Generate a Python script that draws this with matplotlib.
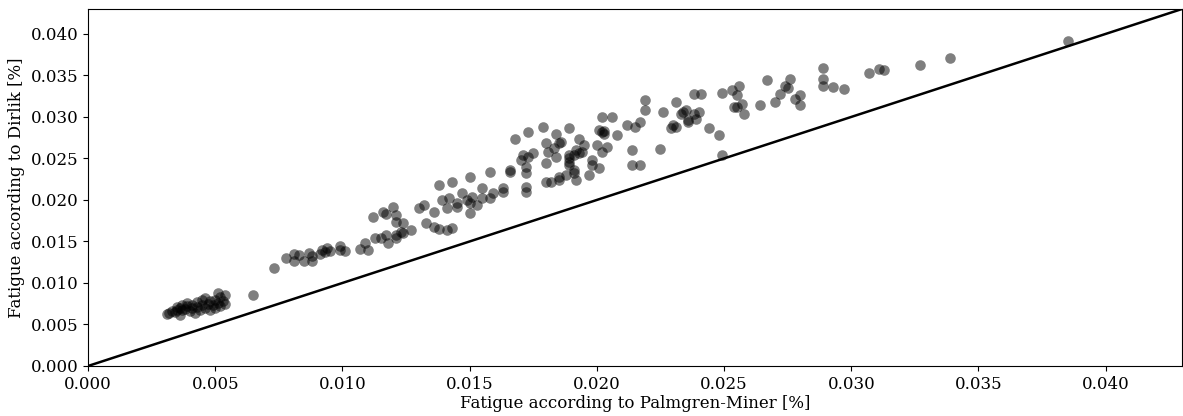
import matplotlib
matplotlib.use('Agg')
from matplotlib import pyplot as plt
import numpy as np

# fatigue values, (palmgren-miner, dirlik) in %
low_pm = [0.0031, 0.0032, 0.0033, 0.0034, 0.0035, 0.0035, 0.0036, 0.0036, 0.0037, 0.0037,
          0.0038, 0.0039, 0.0039, 0.0040, 0.0041, 0.0041, 0.0042, 0.0043, 0.0043, 0.0044,
          0.0045, 0.0045, 0.0046, 0.0046, 0.0047, 0.0048, 0.0048, 0.0049, 0.0050, 0.0050,
          0.0051, 0.0051, 0.0052, 0.0052, 0.0053, 0.0054, 0.0054, 0.0065]
low_dk = [0.0063, 0.0064, 0.0066, 0.0065, 0.0068, 0.0071, 0.0070, 0.0062, 0.0073, 0.0067,
          0.0069, 0.0072, 0.0076, 0.0066, 0.0070, 0.0074, 0.0064, 0.0071, 0.0077, 0.0068,
          0.0073, 0.0079, 0.0070, 0.0082, 0.0075, 0.0068, 0.0078, 0.0073, 0.0080, 0.0070,
          0.0088, 0.0076, 0.0072, 0.0083, 0.0078, 0.0085, 0.0075, 0.0085]

mid_pm = [0.0073, 0.0078, 0.0081, 0.0081, 0.0085, 0.0087, 0.0088, 0.0088, 0.0092, 0.0094,
          0.0095, 0.0099, 0.0099, 0.0101, 0.0107, 0.0109, 0.0110, 0.0113, 0.0115, 0.0117,
          0.0118, 0.0121, 0.0123, 0.0121, 0.0124, 0.0127, 0.0112, 0.0116, 0.0117, 0.0120,
          0.0121, 0.0121, 0.0124, 0.0130, 0.0132, 0.0136, 0.0133, 0.0136, 0.0138, 0.0141,
          0.0143, 0.0138, 0.0143, 0.0139, 0.0141, 0.0142, 0.0145, 0.0083, 0.0091, 0.0093,
          0.0145]
mid_dk = [0.0118, 0.0130, 0.0135, 0.0126, 0.0126, 0.0136, 0.0126, 0.0132, 0.0140, 0.0142,
          0.0138, 0.0144, 0.0140, 0.0138, 0.0141, 0.0148, 0.0140, 0.0154, 0.0154, 0.0158,
          0.0148, 0.0158, 0.0162, 0.0154, 0.0160, 0.0164, 0.0180, 0.0186, 0.0183, 0.0192,
          0.0182, 0.0174, 0.0172, 0.0190, 0.0194, 0.0186, 0.0172, 0.0168, 0.0165, 0.0164,
          0.0166, 0.0218, 0.0222, 0.0200, 0.0190, 0.0202, 0.0196, 0.0134, 0.0135, 0.0137,
          0.0192]

up_pm = [0.0150, 0.0158, 0.0166, 0.0147, 0.0149, 0.0150, 0.0151, 0.0153, 0.0150, 0.0155,
         0.0155, 0.0158, 0.0159, 0.0163, 0.0163, 0.0172, 0.0172, 0.0172, 0.0172, 0.0170,
         0.0171, 0.0173, 0.0175, 0.0180, 0.0181, 0.0184, 0.0180, 0.0182, 0.0185, 0.0185,
         0.0189, 0.0189, 0.0188, 0.0191, 0.0191, 0.0192, 0.0193, 0.0197, 0.0198, 0.0201,
         0.0202, 0.0214, 0.0217, 0.0214,
         0.0168, 0.0173, 0.0179, 0.0184, 0.0189, 0.0193, 0.0195, 0.0202, 0.0202, 0.0203,
         0.0206, 0.0208, 0.0200, 0.0204, 0.0212, 0.0215, 0.0217, 0.0219, 0.0219, 0.0226,
         0.0231, 0.0225, 0.0180, 0.0183, 0.0185, 0.0189, 0.0191, 0.0198, 0.0166,
         0.0233, 0.0234, 0.0230, 0.0236, 0.0238, 0.0186, 0.0189, 0.0192, 0.0194, 0.0201,
         0.0203]
up_dk = [0.0228, 0.0234, 0.0234, 0.0208, 0.0200, 0.0196, 0.0204, 0.0194, 0.0184, 0.0202,
         0.0215, 0.0202, 0.0208, 0.0214, 0.0210, 0.0216, 0.0210, 0.0232, 0.0240, 0.0248,
         0.0254, 0.0252, 0.0257, 0.0244, 0.0258, 0.0252, 0.0222, 0.0222, 0.0228, 0.0224,
         0.0254, 0.0242, 0.0230, 0.0232, 0.0236, 0.0224, 0.0256, 0.0230, 0.0248, 0.0238,
         0.0258, 0.0242, 0.0242, 0.0260,
         0.0273, 0.0282, 0.0288, 0.0280, 0.0287, 0.0274, 0.0266, 0.0300, 0.0282, 0.0280,
         0.0300, 0.0278, 0.0266, 0.0264, 0.0290, 0.0288, 0.0294, 0.0320, 0.0308, 0.0306,
         0.0318, 0.0261, 0.0268, 0.0262, 0.0268, 0.0250, 0.0254, 0.0242, 0.0236,
         0.0304, 0.0306, 0.0290, 0.0294, 0.0328, 0.0270, 0.0246, 0.0260, 0.0258, 0.0284,
         0.0283]

high_pm = [0.0235, 0.0238, 0.0240, 0.0236, 0.0239, 0.0229, 0.0231, 0.0241, 0.0244, 0.0248,
           0.0249, 0.0249, 0.0253, 0.0255, 0.0256, 0.0254, 0.0255, 0.0257, 0.0258, 0.0264,
           0.0267, 0.0270, 0.0272, 0.0274, 0.0275, 0.0276, 0.0278, 0.0280, 0.0280, 0.0289,
           0.0289, 0.0289, 0.0293, 0.0297, 0.0307, 0.0311, 0.0313, 0.0327, 0.0339, 0.0385]
high_dk = [0.0308, 0.0304, 0.0306, 0.0296, 0.0298, 0.0287, 0.0288, 0.0328, 0.0287, 0.0278,
           0.0254, 0.0329, 0.0332, 0.0326, 0.0337, 0.0312, 0.0312, 0.0316, 0.0304, 0.0314,
           0.0345, 0.0318, 0.0328, 0.0337, 0.0335, 0.0346, 0.0321, 0.0326, 0.0314, 0.0359,
           0.0346, 0.0337, 0.0336, 0.0334, 0.0353, 0.0358, 0.0356, 0.0363, 0.0371, 0.0392]

pm = np.array(low_pm + mid_pm + up_pm + high_pm)
dirlik = np.array(low_dk + mid_dk + up_dk + high_dk)

lim = 0.043

plt.rcParams['font.family'] = 'DejaVu Serif'
fig = plt.figure(figsize=(11.83, 4.16), dpi=100)
ax = fig.add_axes([88 / 1183, 50 / 416, 1094 / 1183, 357 / 416])

ax.scatter(pm, dirlik, s=58, color='black', alpha=0.5, linewidths=0)
ax.plot([0, lim], [0, lim], color='black', lw=1.8)

ax.set_xlim(0, lim)
ax.set_ylim(0, lim)
ax.set_xticks(np.arange(0, 0.0401, 0.005))
ax.set_yticks(np.arange(0, 0.0401, 0.005))
ax.xaxis.set_major_formatter(matplotlib.ticker.FormatStrFormatter('%.3f'))
ax.yaxis.set_major_formatter(matplotlib.ticker.FormatStrFormatter('%.3f'))
ax.tick_params(labelsize=12)
ax.set_xlabel('Fatigue according to Palmgren-Miner [%]', fontsize=12, labelpad=2)
ax.set_ylabel('Fatigue according to Dirlik [%]', fontsize=12)

fig.savefig('out.png', dpi=100)
